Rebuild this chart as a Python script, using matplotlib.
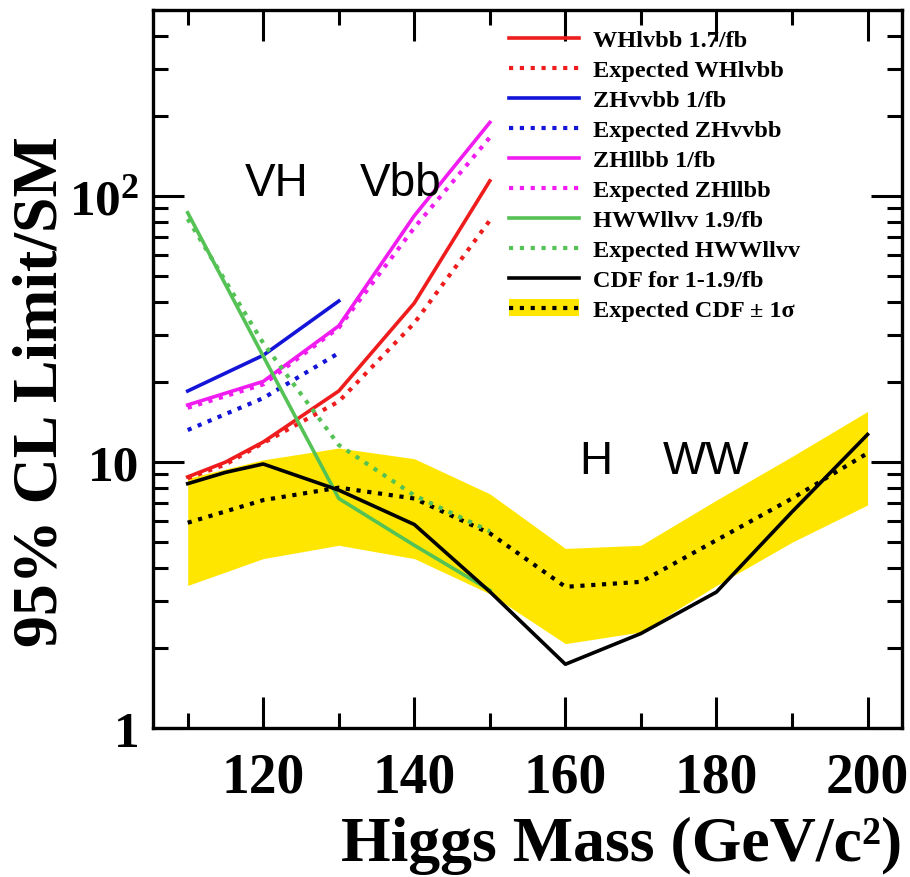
import matplotlib
matplotlib.use("Agg")
import matplotlib.pyplot as plt
from matplotlib.lines import Line2D
from matplotlib.patches import Patch
from matplotlib.ticker import LogLocator, FixedLocator, NullFormatter
import numpy as np

# limites por canal (95% CL / SM) vs masa del Higgs
masa_wh = [110, 115, 120, 130, 140, 150]
wh_obs = [8.8, 10.0, 11.9, 18.5, 39.6, 114]
wh_exp = [8.7, 9.8, 11.8, 16.9, 33.3, 81]

masa_zh = [110, 120, 130]
zhvv_obs = [18.5, 25.2, 40.3]
zhvv_exp = [13.2, 17.4, 25.7]

masa_zhll = [110, 120, 130, 140, 150]
zhll_obs = [16.4, 20.1, 32.5, 84.3, 189]
zhll_exp = [16.0, 19.6, 32.0, 76, 166]

masa_hww = [110, 120, 130, 140, 150]
hww_obs = [86.5, 25.0, 7.3, 4.87, 3.3]
hww_exp = [82, 28, 11.6, 7.5, 5.5]

masa_cdf = [110, 115, 120, 130, 140, 150, 160, 170, 180, 190, 200]
cdf_obs = [8.3, 9.15, 9.84, 7.85, 5.83, 3.26, 1.74, 2.27, 3.25, 6.5, 12.7]
masa_band = [110, 120, 130, 140, 150, 160, 170, 180, 190, 200]
cdf_exp = [5.92, 7.2, 8.02, 7.3, 5.4, 3.4, 3.55, 5.09, 7.3, 10.8]
banda_sup = [8.7, 10.2, 11.3, 10.3, 7.6, 4.74, 4.87, 7.2, 10.5, 15.5]
banda_inf = [3.44, 4.34, 4.87, 4.34, 3.2, 2.08, 2.30, 3.44, 5.0, 6.9]

etiquetas = ["WHlvbb 1.7/fb", "Expected WHlvbb", "ZHvvbb 1/fb", "Expected ZHvvbb",
             "ZHllbb 1/fb", "Expected ZHllbb", "HWWllvv 1.9/fb", "Expected HWWllvv",
             "CDF for 1-1.9/fb", "Expected CDF \u00b1 1\u03c3"]

rojo = "#ee1c1c"
azul = "#1414d8"
magenta = "#f01cf0"
verde = "#55c255"
amarillo = "#ffe600"

serif = ["Liberation Serif", "DejaVu Serif"]
plt.rcParams["font.family"] = serif
plt.rcParams["font.weight"] = "bold"
plt.rcParams["mathtext.fontset"] = "custom"
plt.rcParams["mathtext.rm"] = "Liberation Serif:bold"
plt.rcParams["mathtext.bf"] = "Liberation Serif:bold"

fig = plt.figure(figsize=(9.10, 8.78), dpi=100)
ax = fig.add_axes([0.1685, 0.1694, 0.8230, 0.8181])

lw = 2.6
punteado = (0, (1.0, 1.6))

ax.fill_between(masa_band, banda_inf, banda_sup, color=amarillo, lw=0, zorder=1)
ax.plot(masa_band, cdf_exp, color="black", lw=3.0, ls=punteado, zorder=3)

ax.plot(masa_wh, wh_obs, color=rojo, lw=lw, zorder=4)
ax.plot(masa_wh, wh_exp, color=rojo, lw=3.0, ls=punteado, zorder=4)
ax.plot(masa_zh, zhvv_obs, color=azul, lw=lw, zorder=4)
ax.plot(masa_zh, zhvv_exp, color=azul, lw=3.0, ls=punteado, zorder=4)
ax.plot(masa_zhll, zhll_obs, color=magenta, lw=lw, zorder=4)
ax.plot(masa_zhll, zhll_exp, color=magenta, lw=3.0, ls=punteado, zorder=4)
ax.plot(masa_hww, hww_obs, color=verde, lw=lw, zorder=4)
ax.plot(masa_hww, hww_exp, color=verde, lw=3.0, ls=punteado, zorder=4)
ax.plot(masa_cdf, cdf_obs, color="black", lw=lw, zorder=5)

ax.set_yscale("log")
ax.set_xlim(105.45, 204.6)
ax.set_ylim(1, 500)

# ejes: marcas hacia dentro en los cuatro lados
ax.xaxis.set_major_locator(FixedLocator([120, 140, 160, 180, 200]))
ax.xaxis.set_minor_locator(FixedLocator([110, 130, 150, 170, 190]))
ax.yaxis.set_major_locator(FixedLocator([1, 10, 100]))
ax.yaxis.set_minor_locator(LogLocator(base=10, subs=np.arange(2, 10)))
ax.yaxis.set_minor_formatter(NullFormatter())
ax.set_yticklabels(["1", "10", r"$\mathbf{10^{2}}$"])
ax.tick_params(which="both", direction="in", top=True, right=True, width=2.2,
               labelsize=40, color="black")
ax.tick_params(which="major", length=22)
ax.tick_params(which="minor", length=11)
ax.tick_params(axis="x", pad=17)
ax.tick_params(axis="y", pad=10, labelsize=37)
for lab in ax.get_xticklabels() + ax.get_yticklabels():
    lab.set_fontweight("bold")
for s in ax.spines.values():
    s.set_linewidth(2.4)

fig.text(622 / 910, 1 - 846 / 878, "Higgs Mass (GeV/c\u00b2)", fontsize=46,
         fontweight="bold", ha="center", va="center")
fig.text(42 / 910, 1 - 392 / 878, "95% CL Limit/SM", fontsize=46,
         fontweight="bold", ha="center", va="center", rotation=90)

sans = ["Liberation Sans", "DejaVu Sans"]
for txt, x, y in [("VH", 117.6, 101), ("Vbb", 132.8, 101), ("H", 161.9, 9.08), ("WW", 172.9, 9.08)]:
    ax.text(x, y, txt, fontsize=33, family=sans, fontweight="normal", va="baseline", zorder=6)

manijas = [
    Line2D([], [], color=rojo, lw=lw),
    Line2D([], [], color=rojo, lw=3.0, ls=punteado),
    Line2D([], [], color=azul, lw=lw),
    Line2D([], [], color=azul, lw=3.0, ls=punteado),
    Line2D([], [], color=magenta, lw=lw),
    Line2D([], [], color=magenta, lw=3.0, ls=punteado),
    Line2D([], [], color=verde, lw=lw),
    Line2D([], [], color=verde, lw=3.0, ls=punteado),
    Line2D([], [], color="black", lw=lw),
    (Patch(facecolor=amarillo, edgecolor="none"), Line2D([], [], color="black", lw=3.0, ls=punteado)),
]
ax.legend(manijas, etiquetas, loc="upper left", bbox_to_anchor=(0.452, 0.997),
          frameon=False, prop={"family": serif, "weight": "bold", "size": 17.5},
          handlelength=2.9, handletextpad=0.55, labelspacing=0.33, borderpad=0.2)

fig.savefig("out.png", dpi=100)
